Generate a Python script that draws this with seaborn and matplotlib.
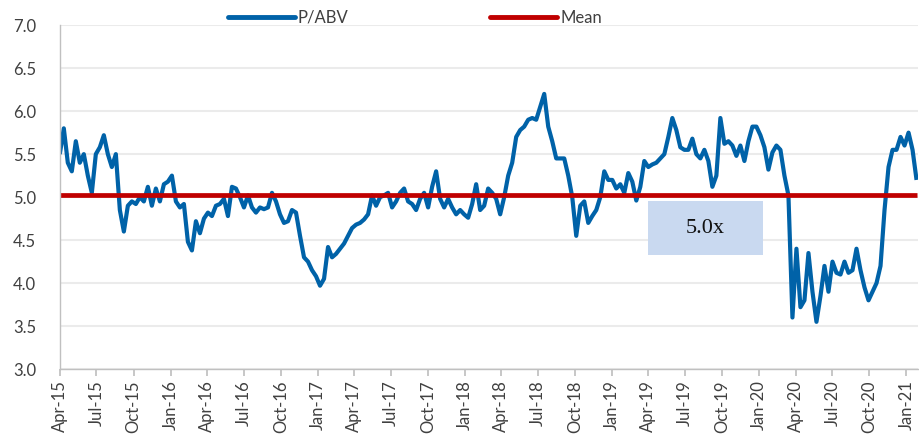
import pandas as pd
import numpy as np
import matplotlib
matplotlib.use("Agg")
import matplotlib.pyplot as plt
import matplotlib.dates as mdates
from matplotlib.patches import Rectangle
import seaborn as sns

# P/ABV readings, roughly every 10 days from Apr-15 to end Jan-21
pabv_2015_16 = [5.50, 5.80, 5.40, 5.30, 5.65, 5.40, 5.50, 5.25, 5.05, 5.50, 5.58, 5.72,
                5.50, 5.35, 5.50, 4.85, 4.60, 4.90, 4.95, 4.92, 5.00, 4.95, 5.12, 4.90,
                5.10, 4.95, 5.15, 5.18, 5.25, 4.95, 4.88, 4.92, 4.48, 4.38, 4.72, 4.58,
                4.75, 4.82, 4.78, 4.90, 4.92, 4.98, 4.78, 5.12, 5.10, 5.00, 4.88, 5.02,
                4.88, 4.82, 4.88, 4.86, 4.88, 5.05, 4.95, 4.80, 4.70, 4.72, 4.85, 4.82,
                4.55, 4.30, 4.25]
pabv_2017_18 = [4.15, 4.08, 3.97, 4.05, 4.42, 4.30, 4.34, 4.40, 4.46, 4.55, 4.64, 4.68,
                4.70, 4.74, 4.80, 5.02, 4.90, 5.00, 5.02, 5.05, 4.88, 4.95, 5.05, 5.10,
                4.95, 4.92, 4.85, 4.98, 5.05, 4.88, 5.12, 5.30, 4.98, 4.88, 4.98, 4.88,
                4.80, 4.85, 4.80, 4.76, 4.92, 5.15, 4.85, 4.90, 5.10, 5.05, 4.98, 4.80,
                5.00, 5.25, 5.40, 5.70, 5.78, 5.82, 5.90, 5.92, 5.90, 6.05, 6.20, 5.82,
                5.65, 5.45, 5.45, 5.45, 5.25, 5.00, 4.55, 4.90, 4.95, 4.70, 4.78, 4.85,
                5.00, 5.30, 5.20, 5.20, 5.10]
pabv_2019_21 = [5.15, 5.05, 5.28, 5.18, 4.96, 5.12, 5.42, 5.35, 5.38, 5.40, 5.45, 5.50,
                5.70, 5.92, 5.78, 5.58, 5.55, 5.55, 5.68, 5.50, 5.45, 5.55, 5.42, 5.12,
                5.25, 5.92, 5.62, 5.65, 5.60, 5.48, 5.60, 5.42, 5.65, 5.82, 5.82, 5.72,
                5.58, 5.32, 5.52, 5.60, 5.55, 5.25, 5.02, 3.60, 4.40, 3.72, 3.80, 4.35,
                3.90, 3.55, 3.85, 4.20, 3.90, 4.25, 4.12, 4.10, 4.25, 4.12, 4.15, 4.40,
                4.15, 3.95, 3.80, 3.90, 4.00, 4.20, 4.85, 5.35, 5.55, 5.55, 5.70, 5.60,
                5.75, 5.55, 5.20]
mean_value = 5.02
series_names = ["P/ABV", "Mean"]
annotation_text = "5.0x"

pabv = pabv_2015_16 + pabv_2017_18 + pabv_2019_21
dates = pd.date_range("2015-04-01", "2021-01-26", periods=len(pabv))

df = pd.DataFrame({
    "date": np.concatenate([dates, dates]),
    "value": pabv + [mean_value] * len(pabv),
    "series": [series_names[0]] * len(pabv) + [series_names[1]] * len(pabv),
})

sns.set_theme(style="white")
plt.rcParams["font.family"] = ["Lato", "DejaVu Sans"]

fig = plt.figure(figsize=(9.2, 4.41), dpi=100)
ax = fig.add_axes([0.065, 0.163, 0.933, 0.78])

sns.lineplot(data=df, x="date", y="value", hue="series",
             palette={"P/ABV": "#0062a8", "Mean": "#c00000"},
             ax=ax, legend=True)
for line, lw in zip(ax.lines, [3.0, 3.4]):
    line.set_linewidth(lw)
    line.set_solid_capstyle("butt")

# annotation box
bx0 = mdates.date2num(pd.Timestamp("2019-04-01"))
bx1 = mdates.date2num(pd.Timestamp("2020-01-10"))
ax.add_patch(Rectangle((bx0, 4.33), bx1 - bx0, 0.62, facecolor="#c9d9f0",
                       edgecolor="none", zorder=1))
ax.text((bx0 + bx1) / 2, 4.64, annotation_text, ha="center", va="center",
        fontsize=16, family=["Liberation Serif", "DejaVu Serif"], color="#111111", zorder=3)

ax.set_ylim(3.0, 7.0)
ax.set_yticks(np.arange(3.0, 7.01, 0.5))
ax.set_yticklabels([f"{v:.1f}" for v in np.arange(3.0, 7.01, 0.5)])
ax.set_xlim(pd.Timestamp("2015-04-01"), pd.Timestamp("2021-01-30"))
ax.xaxis.set_major_locator(mdates.MonthLocator(bymonth=[1, 4, 7, 10]))
ax.xaxis.set_major_formatter(mdates.DateFormatter("%b-%y"))
plt.setp(ax.get_xticklabels(), rotation=90)

ax.set_xlabel("")
ax.set_ylabel("")
ax.grid(axis="y", color="#ebebeb", linewidth=1.5)
ax.set_axisbelow(True)
for s in ["top", "right"]:
    ax.spines[s].set_visible(False)
for s in ["left", "bottom"]:
    ax.spines[s].set_color("#c0c0c0")
    ax.spines[s].set_linewidth(1.0)
ax.tick_params(axis="x", bottom=True, length=5, color="#c0c0c0", labelsize=12,
               labelcolor="#404040", pad=3)
ax.tick_params(axis="y", left=False, labelsize=12, labelcolor="#404040", pad=11)

handles, labels = ax.get_legend_handles_labels()
ax.get_legend().remove()
for h in handles:
    h.set_linewidth(3.5)
fig.legend(handles, labels, loc="center", bbox_to_anchor=(0.451, 0.96), ncol=2,
           frameon=False, fontsize=12, handlelength=4, handletextpad=0.2,
           columnspacing=8.5, labelcolor="#404040")

fig.savefig("out.png", dpi=100)
